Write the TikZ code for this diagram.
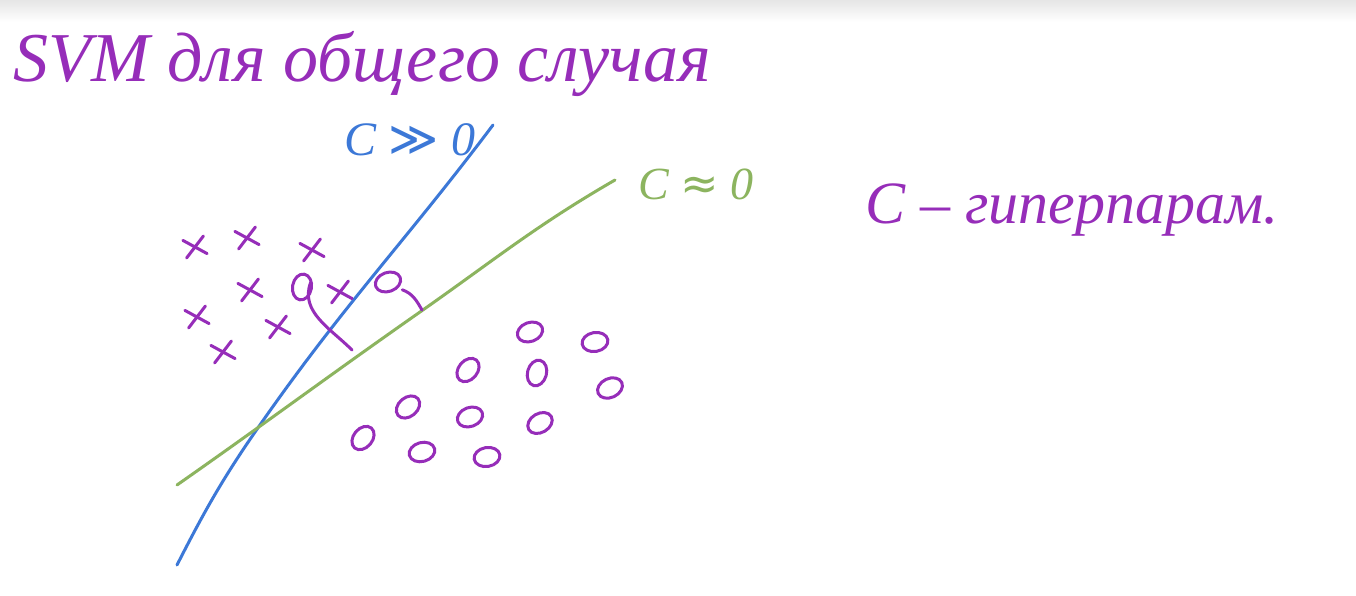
\documentclass[tikz,border=0pt]{standalone}
\usepackage{fontspec}
\setmainfont{Liberation Serif}
\newfontfamily\symfont{DejaVu Sans}
\usetikzlibrary{positioning,shapes.geometric,shapes.misc}

\definecolor{inkpurple}{RGB}{150,45,185}
\definecolor{inkblue}{RGB}{60,120,215}
\definecolor{inkgreen}{RGB}{140,180,95}

\tikzset{
  hand/.style={font=\itshape\fontsize{#1}{#1}\selectfont, inner sep=0pt},
  hand/.default=60,
  crosspt/.style={cross out, draw=inkpurple, line width=3pt, line cap=round,
    minimum width=18pt, minimum height=15pt, inner sep=0pt, rotate=12},
  ringpt/.style={ellipse, draw=inkpurple, line width=3pt,
    minimum width=26pt, minimum height=19pt, inner sep=0pt},
  bluestroke/.style={draw=inkblue, line width=3pt, line cap=round},
  greenstroke/.style={draw=inkgreen, line width=3pt, line cap=round},
  marginarc/.style={draw=inkpurple, line width=3pt, line cap=round}
}

\begin{document}
\begin{tikzpicture}[x=1pt, y=-1pt]
\useasboundingbox (0,0) rectangle (1356,596);
\fill[white] (0,0) rectangle (1356,596);
\shade[top color=black!10, bottom color=white] (0,0) rectangle (1356,22);

% title and labels
\node[hand=70, text=inkpurple] (title) at (362,64) {SVM для общего случая};
\node[hand=48, text=inkblue] (cbig) at (410,140) {C {\symfont\upshape ≫} 0};
\node[hand=46, text=inkgreen] (csmall) at (696,184) {C {\symfont\upshape ≈} 0};
\node[hand=60, text=inkpurple] (hyper) at (1072,210) {C -- гиперпарам.};

% separating lines
\coordinate (bS) at (177,565);
\coordinate (bM) at (262,422);
\coordinate (bE) at (493,125);
\coordinate (gS) at (177,485);
\coordinate (gM) at (420,312);
\coordinate (gE) at (615,180);
\draw[bluestroke] (bS) to[out=63,in=-125] (bM) to[out=55,in=-127] (bE);
\draw[greenstroke] (gS) to[out=35,in=-145] (gM) to[out=35,in=-150] (gE);

% class x
\foreach \px/\py [count=\i] in {195/247, 247/238, 312/250, 250/290, 340/292,
    197/317, 278/327, 223/352}
  \node[crosspt] (x\i) at (\px,\py) {};

% class o
\foreach \px/\py/\ang [count=\i] in {302/287/80, 388/282/20,
    530/332/20, 595/342/10, 468/370/50, 537/373/75, 610/388/25,
    408/407/40, 470/417/20, 540/423/30, 363/438/50, 422/452/15, 487/457/10}
  \node[ringpt, rotate=\ang] (o\i) at (\px,\py) {};

% margins
\coordinate (m1) at (352,350);
\coordinate (m2) at (422,310);
\draw[marginarc] (o1.east) ++(6,10) to[out=-110,in=135] (m1);
\draw[marginarc] (o2.south east) ++(2,4) to[out=-20,in=120] (m2);
\end{tikzpicture}
\end{document}
